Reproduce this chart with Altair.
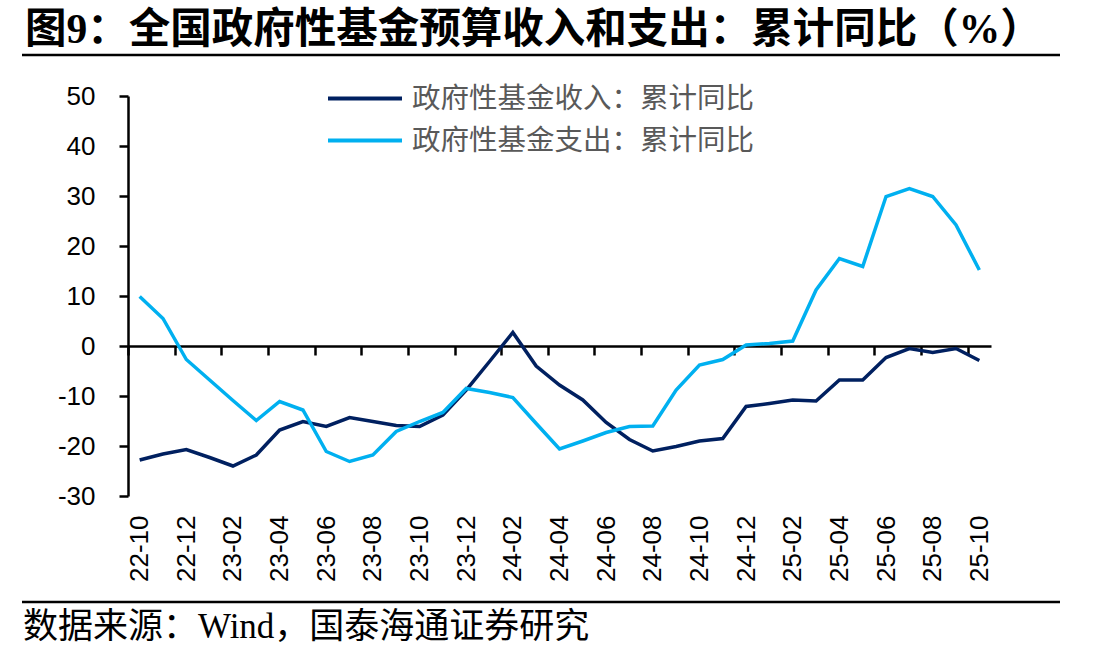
import altair as alt
import pandas as pd

# ---- data ----
months = ["22-10", "22-11", "22-12", "23-01", "23-02", "23-03", "23-04", "23-05", "23-06",
          "23-07", "23-08", "23-09", "23-10", "23-11", "23-12", "24-01", "24-02", "24-03",
          "24-04", "24-05", "24-06", "24-07", "24-08", "24-09", "24-10", "24-11", "24-12",
          "25-01", "25-02", "25-03", "25-04", "25-05", "25-06", "25-07", "25-08", "25-09",
          "25-10"]
revenue = [-22.8, -21.6, -20.7, -22.3, -24.0, -21.8, -16.8, -15.1, -16.1, -14.3, -15.1,
           -15.9, -16.1, -13.8, -8.8, -3.1, 2.7, -4.0, -7.8, -10.8, -15.3, -18.7, -21.0,
           -20.1, -19.0, -18.5, -12.1, -11.5, -10.8, -11.0, -6.8, -6.8, -2.3, -0.5, -1.3,
           -0.5, -2.9]
expenditure = [9.9, 5.5, -2.7, -6.8, -10.9, -14.9, -11.1, -12.8, -21.1, -23.1, -21.8,
               -17.1, -15.1, -13.3, -8.5, -9.3, -10.3, -15.5, -20.6, -19.0, -17.3, -16.1,
               -16.0, -8.8, -3.8, -2.7, 0.2, 0.5, 1.0, 11.2, 17.5, 15.9, 29.9, 31.5, 29.9,
               24.2, 15.2]
series_names = ["政府性基金收入：累计同比", "政府性基金支出：累计同比"]
series_colors = ["#002060", "#00B0F0"]
y_ticks = [-30, -20, -10, 0, 10, 20, 30, 40, 50]
title_text = "图9：全国政府性基金预算收入和支出：累计同比（%）"
source_text = "数据来源：Wind，国泰海通证券研究"

rows = []
for i, m in enumerate(months):
    rows.append({"idx": i, "month": m, "series": series_names[0], "value": revenue[i]})
    rows.append({"idx": i, "month": m, "series": series_names[1], "value": expenditure[i]})
df = pd.DataFrame(rows)
one = pd.DataFrame({"k": [0]})

W, H = 863, 400
ymin, ymax = y_ticks[0], y_ticks[-1]
zero_from_bottom = H * (0 - ymin) / (ymax - ymin)

label_idx = list(range(0, len(months), 2))
tick_pos = [i - 0.5 for i in label_idx]
label_expr = "[" + ",".join("'" + m + "'" for m in months) + "][datum.value]"

x_scale = alt.Scale(domain=[-0.5, len(months) - 0.5], nice=False, zero=False)
y_scale = alt.Scale(domain=[ymin, ymax], nice=False, zero=False)

y_axis = alt.Axis(values=y_ticks, labelExpr="datum.value + ''", title=None, grid=False,
                  domain=True, domainColor="black", domainWidth=2.5, ticks=True,
                  tickColor="black", tickWidth=2.5, tickSize=9,
                  labelFont="Liberation Sans", labelFontSize=26, labelColor="black",
                  labelPadding=24)

label_axis = alt.Axis(values=label_idx, labelExpr=label_expr, labelAngle=270, orient="bottom",
                      domain=False, ticks=False, tickSize=0, grid=False, title=None,
                      labelFont="Liberation Sans", labelFontSize=26, labelColor="black",
                      labelPadding=19, labelOverlap=False, labelFlush=False)

zero_axis = alt.Axis(values=tick_pos, orient="bottom", offset=-zero_from_bottom, labels=False,
                     domain=True, domainColor="black", domainWidth=2.5, domainCap="butt",
                     ticks=True, tickColor="black", tickWidth=2.5, tickSize=9, grid=False,
                     title=None)

legend = alt.Legend(orient="none", legendX=198, legendY=-11, direction="vertical", title=None,
                    symbolType="stroke", symbolSize=5476, symbolStrokeWidth=4, clipHeight=27,
                    labelFont="Noto Sans CJK SC", labelFontSize=28.5, labelColor="#595959",
                    labelOffset=8, rowPadding=13, padding=0, labelLimit=800)

color = alt.Color("series:N", scale=alt.Scale(domain=series_names, range=series_colors),
                  legend=legend)

rev_layer = alt.Chart(df).transform_filter(alt.datum.series == series_names[0]).mark_line(
    strokeWidth=3.5).encode(
    x=alt.X("idx:Q", scale=x_scale, axis=label_axis),
    y=alt.Y("value:Q", scale=y_scale, axis=y_axis),
    color=color,
)
exp_layer = alt.Chart(df).transform_filter(alt.datum.series == series_names[1]).mark_line(
    strokeWidth=3.5).encode(
    x=alt.X("idx:Q", scale=x_scale, axis=zero_axis),
    y=alt.Y("value:Q", scale=y_scale, axis=y_axis),
    color=color,
)

title_rule = alt.Chart(one).mark_rule(color="black", strokeWidth=2.5).encode(
    x=alt.value(-106), x2=alt.value(932), y=alt.value(-41))
source_rule = alt.Chart(one).mark_rule(color="black", strokeWidth=2.5).encode(
    x=alt.value(-106), x2=alt.value(932), y=alt.value(506))
source = alt.Chart(one).mark_text(
    text=source_text, align="left", baseline="alphabetic",
    font="Liberation Serif, Noto Sans CJK SC", fontSize=35, color="black").encode(
    x=alt.value(-105), y=alt.value(542))

chart = alt.layer(rev_layer, exp_layer, title_rule, source_rule, source).resolve_axis(
    x="independent").properties(
    width=W, height=H,
    background="white",
    title=alt.TitleParams(text=title_text, anchor="start", frame="group", dx=-103, offset=2,
                          font="Liberation Serif, Noto Sans CJK SC", fontSize=41.5,
                          fontWeight="bold", color="black"),
    autosize=alt.AutoSizeParams(type="none"),
    padding={"left": 128, "top": 96, "right": 116, "bottom": 166},
).configure_view(stroke=None)

chart.save("out.html", embed_options={"renderer": "svg", "actions": False})
